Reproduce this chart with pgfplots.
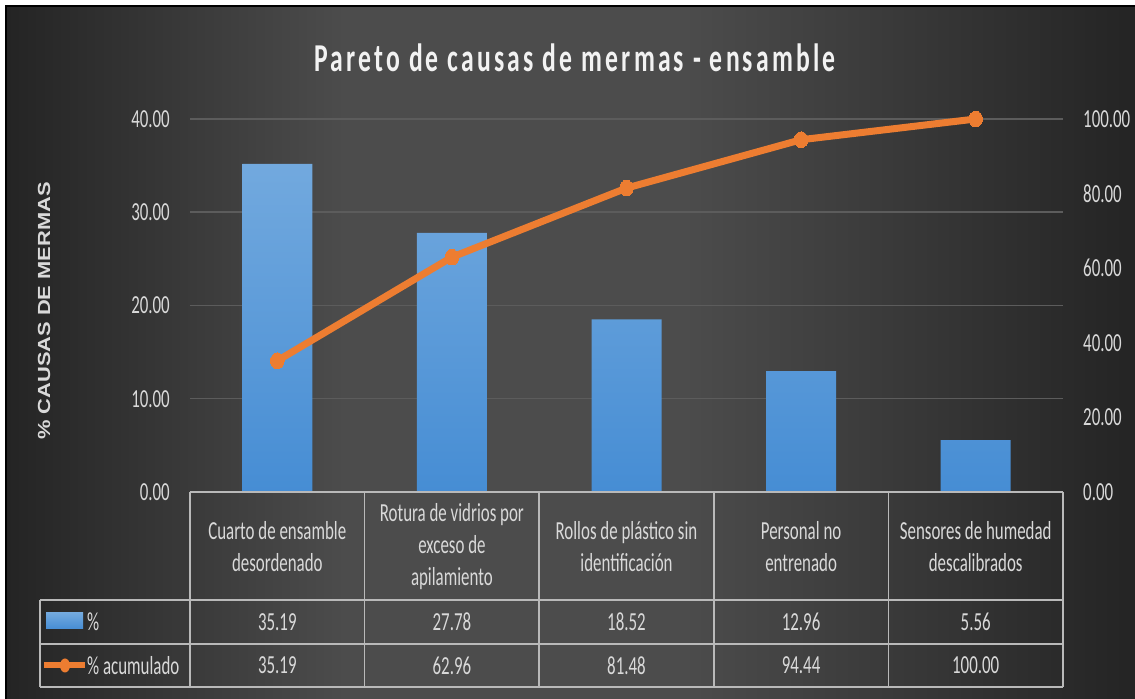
\documentclass[border=0pt]{standalone}
\usepackage{pgfplots}
\pgfplotsset{compat=1.18}
\usepackage{fontspec}
\setmainfont{Carlito}[FakeStretch=0.65]
\newfontfamily\titlefont{Carlito}[FakeStretch=0.65,LetterSpace=8]
\newfontfamily\labfont{Liberation Sans}[FakeStretch=1.25]
\definecolor{bgin}{RGB}{76,76,76}
\definecolor{bgout}{RGB}{36,36,36}
\definecolor{txt}{RGB}{217,217,217}
\definecolor{gridc}{RGB}{92,92,92}
\definecolor{tabline}{RGB}{185,185,185}
\definecolor{bartop}{RGB}{114,169,222}
\definecolor{barbot}{RGB}{70,141,212}
\definecolor{lineor}{RGB}{237,125,49}
\pgfdeclarehorizontalshading{bgsh}{100bp}{color(0bp)=(bgout); color(25bp)=(bgout); color(40bp)=(bgin); color(55bp)=(bgin); color(75bp)=(bgout); color(100bp)=(bgout)}
\begin{document}
\begin{tikzpicture}[
  cell/.style={text=txt, font=\fontsize{26bp}{28bp}\selectfont, inner sep=0pt},
  head/.style={text=txt, font=\fontsize{26bp}{32bp}\selectfont, inner sep=0pt, align=center},
]
\useasboundingbox (0,0) rectangle (1135bp,699bp);
\fill[white] (0,0) rectangle (1135bp,699bp);
\shade[shading=bgsh] (6bp,0) rectangle (1135bp,693bp);
\draw[black, line width=2bp] (6bp,0) -- (6bp,693bp) -- (1135bp,693bp);
% title
\node[anchor=base, inner sep=0pt, font=\titlefont\bfseries\fontsize{39.5bp}{40bp}\selectfont, text=white!95!black] at (575bp,627bp) {Pareto de causas de mermas - ensamble};
% y label
\node[rotate=90, inner sep=0pt, font=\labfont\bfseries\fontsize{17.5bp}{18bp}\selectfont, text=txt] at (44bp,388bp) {\% CAUSAS DE MERMAS};

\begin{axis}[
  at={(190bp,207bp)}, anchor=south west, scale only axis,
  width=873bp, height=373bp,
  xmin=-0.5, xmax=4.5, ymin=0, ymax=40, clip=false,
  axis x line=none, axis y line*=left, y axis line style={draw=none},
  ytick={0,10,20,30,40}, yticklabels={0.00,10.00,20.00,30.00,40.00},
  major tick length=0pt,
  ymajorgrids, grid style={gridc, line width=1.5bp},
  yticklabel style={text=txt, font=\fontsize{26bp}{28bp}\selectfont, inner sep=0pt, xshift=-20bp},
]
\addplot[ybar, bar width=70bp, draw=none, top color=bartop, bottom color=barbot]
  coordinates {(0,35.19) (1,27.78) (2,18.52) (3,12.96) (4,5.56)};
% header cells
\node[head] at (axis cs:0,-5.86) {Cuarto de ensamble\\desordenado};
\node[head] at (axis cs:1,-5.86) {Rotura de vidrios por\\exceso de\\apilamiento};
\node[head] at (axis cs:2,-5.86) {Rollos de plástico sin\\identificación};
\node[head] at (axis cs:3,-5.86) {Personal no\\entrenado};
\node[head] at (axis cs:4,-5.86) {Sensores de humedad\\descalibrados};
% table values
\node[cell] at (axis cs:0,-13.94) {35.19};
\node[cell] at (axis cs:1,-13.94) {27.78};
\node[cell] at (axis cs:2,-13.94) {18.52};
\node[cell] at (axis cs:3,-13.94) {12.96};
\node[cell] at (axis cs:4,-13.94) {5.56};
\node[cell] at (axis cs:0,-18.6) {35.19};
\node[cell] at (axis cs:1,-18.6) {62.96};
\node[cell] at (axis cs:2,-18.6) {81.48};
\node[cell] at (axis cs:3,-18.6) {94.44};
\node[cell] at (axis cs:4,-18.6) {100.00};
\end{axis}

\begin{axis}[
  at={(190bp,207bp)}, anchor=south west, scale only axis,
  width=873bp, height=373bp,
  xmin=-0.5, xmax=4.5, ymin=0, ymax=100, clip=false,
  axis x line=none, axis y line*=right, y axis line style={draw=none},
  ytick={0,20,40,60,80,100}, yticklabels={0.00,20.00,40.00,60.00,80.00,100.00},
  major tick length=0pt,
  yticklabel style={text=txt, font=\fontsize{26bp}{28bp}\selectfont, inner sep=0pt, xshift=20bp},
]
\addplot[lineor, line width=7bp, line join=round, mark=*, mark size=6.8bp, mark options={yscale=1.15, fill=lineor, draw=lineor, line width=0pt}]
  coordinates {(0,35.19) (1,62.96) (2,81.48) (3,94.44) (4,100.00)};
\end{axis}

% table grid
\begin{scope}[tabline, line width=1.5bp]
\draw (190bp,207bp) -- (1063bp,207bp);
\draw (40bp,99bp) -- (1063bp,99bp);
\draw (40bp,55bp) -- (1063bp,55bp);
\draw (40bp,12bp) -- (1063bp,12bp);
\foreach \xx in {190,364.6,539.2,713.8,888.4,1063} {\draw (\xx bp,207bp) -- (\xx bp,12bp);}
\draw (40bp,99bp) -- (40bp,12bp);
\end{scope}
% legend in table
\shade[top color=bartop, bottom color=barbot] (46bp,70bp) rectangle (83bp,86bp);
\node[anchor=west, inner sep=0pt, text=txt, font=\fontsize{26bp}{28bp}\selectfont] at (87bp,77bp) {\%};
\draw[lineor, line width=6bp] (44bp,33.5bp) -- (85bp,33.5bp);
\fill[lineor] (65bp,33.5bp) ellipse (5bp and 7bp);
\node[anchor=west, inner sep=0pt, text=txt, font=\fontsize{26bp}{28bp}\selectfont] at (87bp,33.5bp) {\% acumulado};
\end{tikzpicture}
\end{document}
